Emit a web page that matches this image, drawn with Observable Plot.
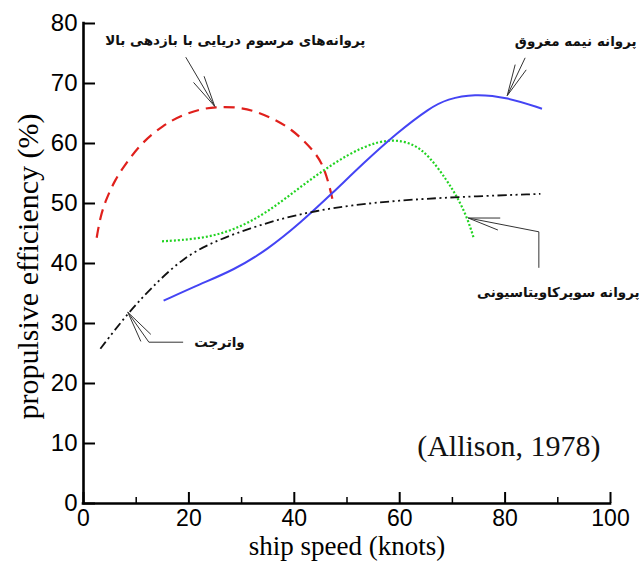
<!DOCTYPE html>
<html><head><meta charset="utf-8">
<script src="https://cdn.jsdelivr.net/npm/d3@7"></script>
<script src="https://cdn.jsdelivr.net/npm/@observablehq/plot@0.6"></script>
<style>body{margin:0;background:#fff}</style>
</head><body><div id="chart"></div>
<script>
// [ship speed (knots), propulsive efficiency (%)]
const conventional = [[2.5,44.3],[3.2,47.8],[4.2,50.5],[6,54],[8,56.6],[11.1,60.2],[15.2,63.1],[18.4,64.6],[22,65.7],[25,66.1],[29.2,66.1],[33,65.3],[36.8,63.8],[39.5,62.3],[41.8,60.5],[44.3,58.1],[45.6,56],[46.6,53.2],[47.5,49.7]];
const supercavitating = [[14.9,43.7],[22.2,44.1],[28.5,45.5],[34.9,48.5],[41.2,52.8],[47.2,56.6],[53.2,59.6],[58.3,60.8],[62.7,60],[65.8,57.7],[69,53.8],[70.9,51.1],[72.8,47.7],[74.1,44.1]];
const semiSubmerged = [[15.2,33.8],[22.2,36.6],[28.5,38.9],[34.9,42.3],[41.2,46.8],[47.2,51.7],[53.2,56.8],[59.5,61.8],[65.8,66],[69,67.4],[74.1,68.3],[80.4,67.7],[87,65.8]];
const waterjet = [[3.2,25.8],[8.3,31.6],[12.7,35.8],[19,41.1],[25.4,43.9],[31.7,45.9],[38,47.6],[44.3,48.8],[50.7,49.7],[59.5,50.5],[70.9,51.1],[86.7,51.6]];

const xTicks = [0,20,40,60,80,100];
const xMinorTicks = [10,30,50,70,90];
const yTicks = [0,10,20,30,40,50,60,70,80];

const xLabel = "ship speed (knots)";
const yLabel = "propulsive efficiency (%)";
const source = "(Allison, 1978)";

const labelTexts = ["پروانه‌های مرسوم دریایی با بازدهی بالا","پروانه نیمه مغروق","پروانه سوپرکاویتاسیونی","واترجت"];
const labelX = [28.8, 93.4, 90.1, 25.8];
const labelY = [77.2, 77.0, 35.2, 26.8];

// leader paths in data units, last point is the arrow tip
const arrowPaths = [
  [[19.5,74.3],[25,66.1]],
  [[83.9,74.2],[80.5,67.9]],
  [[86.5,39.2],[86.5,45.2],[73.1,47.5]],
  [[19,26.8],[12.5,26.8],[8.5,31.8]]
];

const labels = labelTexts.map((t,i)=>({t, x:labelX[i], y:labelY[i]}));

function arrowsMark(index, scales) {
  const g = d3.create("svg:g").attr("fill","none").attr("stroke","#333").attr("stroke-width",1);
  for (const path of arrowPaths) {
    const pts = path.map(([x,y]) => [scales.x(x), scales.y(y)]);
    g.append("path").attr("d", d3.line()(pts));
    const q = pts[pts.length-1], p = pts[pts.length-2];
    const ang = Math.atan2(p[1]-q[1], p[0]-q[0]);
    const L = 32, h = 11*Math.PI/180;
    for (const s of [-1,1]) {
      g.append("line").attr("x1", q[0]).attr("y1", q[1])
        .attr("x2", q[0] + L*Math.cos(ang+s*h)).attr("y2", q[1] + L*Math.sin(ang+s*h));
    }
  }
  return g.node();
}

const H = 561, W = 644, mt = 23, mb = 58, ml = 83, mr = 34;
const fh = H-mt-mb, fw = W-ml-mr;
const sans = "Liberation Sans, Arial, sans-serif";
const serif = "Liberation Serif, Times New Roman, serif";
const lineOpts = {x:d=>d[0], y:d=>d[1], curve:"basis", strokeLinecap:"butt", strokeLinejoin:"round"};

const chart = Plot.plot({
  width: W, height: H,
  marginTop: mt, marginBottom: mb, marginLeft: ml, marginRight: mr,
  style: {background:"#fff", fontFamily: sans, overflow:"visible"},
  x: {domain:[0,100], axis:null},
  y: {domain:[0,80], axis:null},
  marks: [
    Plot.line(conventional, {...lineOpts, stroke:"#e0201c", strokeWidth:2.2, strokeDasharray:"11,7"}),
    Plot.line(supercavitating, {...lineOpts, stroke:"#22d322", strokeWidth:2.2, strokeDasharray:"2,2"}),
    Plot.line(semiSubmerged, {...lineOpts, stroke:"#4444f4", strokeWidth:2}),
    Plot.line(waterjet, {...lineOpts, stroke:"#111", strokeWidth:1.8, strokeDasharray:"9,3.5,2,3.5,2,3.5"}),
    arrowsMark,
    Plot.ruleX(xTicks, {insetTop: fh-11, strokeWidth:2}),
    Plot.ruleX(xMinorTicks, {insetTop: fh-6, strokeWidth:1.5}),
    Plot.ruleY(yTicks, {insetRight: fw-12, strokeWidth:2}),
    Plot.ruleX([0], {strokeWidth:2.6, strokeLinecap:"square"}),
    Plot.ruleY([0], {strokeWidth:2.6, strokeLinecap:"square"}),
    Plot.axisX(xTicks, {tickSize:0, tickPadding:6, fontSize:23, fontFamily:sans, fill:"#000", label:null}),
    Plot.axisY(yTicks, {tickSize:0, tickPadding:6, fontSize:24, fontFamily:sans, fill:"#000", label:null}),
    Plot.text([xLabel], {frameAnchor:"bottom", text:d=>d, dy:51, fontSize:27, fontFamily:serif, fill:"#000"}),
    Plot.text([yLabel], {frameAnchor:"left", text:d=>d, rotate:-90, textAnchor:"middle", dx:-55, dy:3, fontSize:30, fontFamily:serif, fill:"#000"}),
    Plot.text([source], {frameAnchor:"bottom-right", text:d=>d, dx:-10, dy:-48, textAnchor:"end", fontSize:30, fontFamily:serif, fill:"#111"}),
    Plot.text(labels, {x:"x", y:"y", text:"t", fontSize:13.5, fontWeight:"bold", fontFamily:"DejaVu Sans", fill:"#111"})
  ]
});
document.getElementById("chart").appendChild(chart);
</script>
</body></html>
